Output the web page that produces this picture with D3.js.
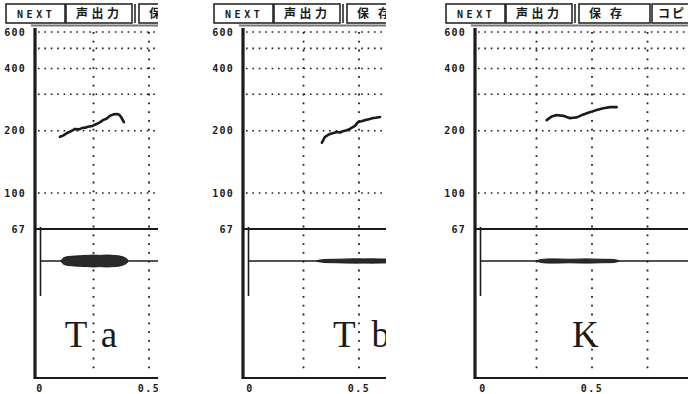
<!DOCTYPE html>
<html>
<head>
<meta charset="utf-8">
<script src="https://cdn.jsdelivr.net/npm/d3@7"></script>
<style>
  body { margin: 0; background: #fff; }
  svg { display: block; }
</style>
</head>
<body>
<script>
const width = 688
const height = 394

const speakers = ['Ta', 'Tb', 'K']
const buttons = ['NEXT', '声出力', '保存', 'コピ']
const hzTicks = [600, 400, 200, 100, 67]
const hzGrid = [600, 500, 400, 300, 200, 100]
const timeGrid = [0.25, 0.5, 0.75]
const timeTicks = [0, 0.5]

// F0 contours (s, Hz)
const taTime = [0.099, 0.115, 0.131, 0.15, 0.167, 0.185, 0.198, 0.212, 0.225, 0.245, 0.266, 0.28, 0.293, 0.31, 0.324, 0.34, 0.356, 0.366, 0.374, 0.387]
const taHz = [187, 190, 195, 199, 204, 203, 206, 207, 209, 211, 216, 220, 225, 229, 236, 240, 241, 239, 233, 220]
const tbTime = [0.333, 0.347, 0.369, 0.385, 0.401, 0.415, 0.428, 0.445, 0.459, 0.482, 0.495, 0.51, 0.527, 0.545, 0.559, 0.575, 0.595]
const tbHz = [175, 187, 193, 195, 197, 196, 199, 201, 204, 211, 220, 222, 225, 227, 230, 231, 233]
const kTime = [0.296, 0.308, 0.318, 0.33, 0.341, 0.356, 0.371, 0.386, 0.401, 0.416, 0.431, 0.454, 0.468, 0.483, 0.502, 0.521, 0.551, 0.581, 0.611]
const kHz = [225, 230, 234, 236, 238, 237, 236, 233, 230, 231, 232, 238, 241, 244, 248, 252, 257, 260, 260]

// amplitude envelope of the waveform (relative)
const taEnvTime = [0.105, 0.115, 0.13, 0.16, 0.19, 0.22, 0.25, 0.28, 0.31, 0.34, 0.37, 0.39, 0.4, 0.405]
const taEnvAmp = [0.1, 0.45, 0.6, 0.7, 0.75, 0.8, 0.85, 0.8, 0.85, 0.8, 0.7, 0.5, 0.3, 0.1]
const tbEnvTime = [0.31, 0.34, 0.4, 0.46, 0.52, 0.58, 0.64]
const tbEnvAmp = [0.05, 0.2, 0.25, 0.3, 0.3, 0.3, 0.25]
const kEnvTime = [0.25, 0.28, 0.33, 0.4, 0.47, 0.54, 0.6, 0.62]
const kEnvAmp = [0.05, 0.25, 0.3, 0.25, 0.3, 0.25, 0.2, 0.05]

const panels = [
  { axisX: 35, zeroX: 38, left: 0, right: 158, time: taTime, hz: taHz, envTime: taEnvTime, envAmp: taEnvAmp, labelT: 0.12 },
  { axisX: 243, zeroX: 248, left: 205, right: 386, time: tbTime, hz: tbHz, envTime: tbEnvTime, envAmp: tbEnvAmp, labelT: 0.383 },
  { axisX: 475, zeroX: 481, left: 430, right: 688, time: kTime, hz: kHz, envTime: kEnvTime, envAmp: kEnvAmp, labelT: 0.41 }
]

const ink = '#1b1b1b'
const y = d3.scaleLog().domain([67, 600]).range([229, 32])
const amp = d3.scaleLinear().domain([-1, 1]).range([268, 254])
const baseY = amp(0)
const bottomY = 378

// button boxes relative to the axis: [left, right, text inset, letter spacing]
const boxes = [[-29, 30, 11, 3.6], [31, 97, 10, 3.5], [104, 175, 10, 9], [177, 245, 6, 2]]

const svg = d3.select('body').append('svg')
  .attr('width', width)
  .attr('height', height)

svg.append('rect').attr('width', width).attr('height', height).attr('fill', '#fff')

panels.forEach(function (p, i) {
  const x = d3.scaleLinear().domain([0, 1]).range([p.zeroX, p.zeroX + 222])

  svg.append('clipPath').attr('id', 'clip' + i)
    .append('rect')
    .attr('x', p.left).attr('y', 0)
    .attr('width', p.right - p.left).attr('height', height)

  const g = svg.append('g').attr('clip-path', 'url(#clip' + i + ')')

  // button bar
  const bar = g.append('g')
  boxes.forEach(function (b, j) {
    if (p.axisX + b[0] >= p.right) return
    bar.append('rect')
      .attr('x', p.axisX + b[0]).attr('y', 4)
      .attr('width', b[1] - b[0]).attr('height', 19)
      .attr('fill', 'none').attr('stroke', ink).attr('stroke-width', 1.5)
    if (p.axisX + b[0] + b[2] + 6 >= p.right) return
    bar.append('text')
      .attr('x', p.axisX + b[0] + b[2])
      .attr('y', 18)
      .attr('font-family', j === 0 ? 'DejaVu Sans Mono' : 'Noto Sans CJK JP')
      .attr('font-weight', 'bold')
      .attr('font-size', j === 0 ? 10 : 12)
      .attr('letter-spacing', b[3])
      .attr('fill', ink)
      .text(buttons[j])
  })
  bar.append('line')
    .attr('x1', p.axisX + 100).attr('x2', p.axisX + 100)
    .attr('y1', 4).attr('y2', 23)
    .attr('stroke', ink).attr('stroke-width', 1.5)
  bar.append('line')
    .attr('x1', p.axisX - 4).attr('x2', p.right)
    .attr('y1', 25.5).attr('y2', 25.5)
    .attr('stroke', '#777').attr('stroke-width', 2)

  // dotted grid
  g.selectAll('.hgrid').data(hzGrid).enter().append('line')
    .attr('x1', p.axisX + 3).attr('x2', p.right)
    .attr('y1', d => y(d)).attr('y2', d => y(d))
    .attr('stroke', ink).attr('stroke-width', 1.6)
    .attr('stroke-dasharray', '1.6 4.8')

  g.selectAll('.vgrid').data(timeGrid).enter().append('line')
    .attr('x1', d => x(d)).attr('x2', d => x(d))
    .attr('y1', y(600)).attr('y2', 372)
    .attr('stroke', ink).attr('stroke-width', 1.8)
    .attr('stroke-dasharray', '1.8 7')

  // y tick labels
  g.selectAll('.ylab').data(hzTicks).enter().append('text')
    .attr('x', p.axisX - 9)
    .attr('y', d => y(d) + 3.5)
    .attr('text-anchor', 'end')
    .attr('font-family', 'DejaVu Sans Mono')
    .attr('font-weight', 'bold')
    .attr('font-size', 10)
    .attr('letter-spacing', 1.2)
    .attr('fill', ink)
    .text(d => d)

  // x tick labels
  g.selectAll('.xlab').data(timeTicks).enter().append('text')
    .attr('x', d => x(d) + (d === 0 ? 2 : 0))
    .attr('y', 392)
    .attr('text-anchor', 'middle')
    .attr('font-family', 'DejaVu Sans Mono')
    .attr('font-weight', 'bold')
    .attr('font-size', 10)
    .attr('letter-spacing', 1.5)
    .attr('fill', ink)
    .text(d => d === 0 ? '0' : '0.' + String(d).split('.')[1])

  // 67 Hz solid line, waveform baseline, axes
  g.append('line')
    .attr('x1', p.axisX).attr('x2', p.right)
    .attr('y1', y(67)).attr('y2', y(67))
    .attr('stroke', ink).attr('stroke-width', 2)
  g.append('line')
    .attr('x1', p.axisX + 5).attr('x2', p.right)
    .attr('y1', baseY).attr('y2', baseY)
    .attr('stroke', ink).attr('stroke-width', 1.6)
  g.append('line')
    .attr('x1', p.axisX + 5.5).attr('x2', p.axisX + 5.5)
    .attr('y1', y(67) - 2).attr('y2', 296)
    .attr('stroke', ink).attr('stroke-width', 1.6)
  g.append('line')
    .attr('x1', p.axisX).attr('x2', p.axisX)
    .attr('y1', 28).attr('y2', bottomY + 1)
    .attr('stroke', ink).attr('stroke-width', 3.2)
  g.append('line')
    .attr('x1', p.axisX - 1).attr('x2', p.right)
    .attr('y1', bottomY).attr('y2', bottomY)
    .attr('stroke', ink).attr('stroke-width', 2.2)

  // waveform envelope
  const env = p.envTime.map((t, k) => [t, p.envAmp[k]])
  g.append('path')
    .datum(env)
    .attr('d', d3.area()
      .x(d => x(d[0]))
      .y0(d => amp(-d[1]))
      .y1(d => amp(d[1]))
      .curve(d3.curveCatmullRom))
    .attr('fill', '#2a2a2a')
    .attr('stroke', ink).attr('stroke-width', 1)

  // F0 contour
  const pts = p.time.map((t, k) => [t, p.hz[k]])
  g.append('path')
    .datum(pts)
    .attr('d', d3.line().x(d => x(d[0])).y(d => y(d[1])))
    .attr('fill', 'none')
    .attr('stroke', ink)
    .attr('stroke-width', 2.6)
    .attr('stroke-linejoin', 'round')
    .attr('stroke-linecap', 'round')

  // speaker label
  g.append('text')
    .attr('x', x(p.labelT))
    .attr('y', 347)
    .attr('font-family', 'Liberation Serif')
    .attr('font-size', 37)
    .attr('letter-spacing', 16)
    .attr('fill', ink)
    .text(speakers[i])
})
</script>
</body>
</html>
